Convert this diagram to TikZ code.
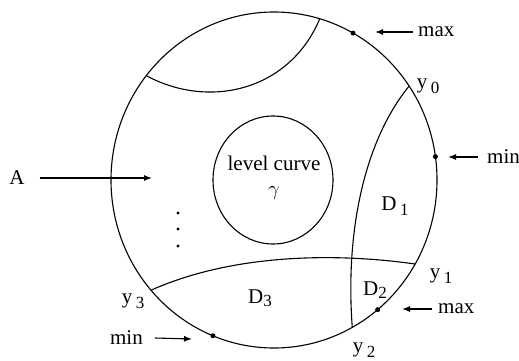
\documentclass[tikz,border=0pt]{standalone}
\usepackage{fontspec}
\setmainfont{Liberation Serif}
\usetikzlibrary{arrows.meta, calc}
\newcommand{\lab}[2]{#1\,\raisebox{-0.5ex}{\fontsize{17}{19}\selectfont #2}}
\begin{document}
\begin{tikzpicture}[x=1pt, y=-1pt,
    >={Latex[length=8pt, width=6pt]},
    every node/.style={font=\fontsize{21}{24}\selectfont, inner sep=0pt},
    curve/.style={line width=1.1pt},
    pt/.style={circle, fill, inner sep=0pt, minimum size=5pt},
    tag/.style={->, line width=1.1pt},
]
\useasboundingbox (0,0) rectangle (519,361);
\coordinate (O) at (274,180);
% the domain and its boundary
\draw[curve] (O) ellipse [x radius=163, y radius=168];
\foreach \n/\t in {mx1/-61, y0/-34, mn1/-8, y1/30, mx2/50.5, y2/61.3,
                   mn2/112, y3/139, ua/218.4, ub/-73.7}
  \coordinate (\n) at ($(O)+(\t:163 and 168)$);
% level curve in the middle
\draw[curve] (273,180) ellipse [x radius=60, y radius=64];
\node[align=center] (gam) at (274,178) {level curve\\[1pt]$\gamma$};
% cuts through the domain
\draw[curve] (ua) .. controls (210,110) and (290,90) .. (ub);
\draw[curve] (y0) .. controls (365,140) and (345,230) .. (y2);
\draw[curve] (y3) .. controls (230,255) and (330,252) .. (y1);
% extrema on the boundary
\foreach \n in {mx1, mn1, mx2, mn2}
  \node[pt] (d\n) at (\n) {};
\foreach \y in {213,229,246}
  \fill (178,\y) circle (1.7);
% labels
\node (ly0) at (428,86) {\lab{y}{0}};
\node (ly1) at (441,276) {\lab{y}{1}};
\node (ly2) at (364,350) {\lab{y}{2}};
\node (ly3) at (133,301) {\lab{y}{3}};
\node (D1) at (395,206) {\lab{D}{1}};
\node (D2) at (375,290) {D\raisebox{-0.25ex}{\fontsize{17}{19}\selectfont 2}};
\node (D3) at (260,298) {D\raisebox{-0.25ex}{\fontsize{17}{19}\selectfont 3}};
% arrows to the points
\node (A) at (17,178) {A};
\node[anchor=west] (tmx1) at (418,32) {max};
\node[anchor=west] (tmn1) at (487,157) {min};
\node[anchor=west] (tmx2) at (438,309) {max};
\node[anchor=east] (tmn2) at (143,338) {min};
\coordinate (aA) at (152,178);
\coordinate (amx1) at (375,32);
\coordinate (amn1) at (448,157);
\coordinate (amx2) at (402,309);
\coordinate (amn2) at (192,339);
\draw[tag] ([xshift=15pt]A.east) -- (aA);
\draw[tag] ([xshift=-5pt]tmx1.west) -- (amx1);
\draw[tag] ([xshift=-9pt]tmn1.west) -- (amn1);
\draw[tag] ([xshift=-6pt]tmx2.west) -- (amx2);
\draw[tag] ([xshift=12pt]tmn2.east) -- (amn2);
\end{tikzpicture}
\end{document}
